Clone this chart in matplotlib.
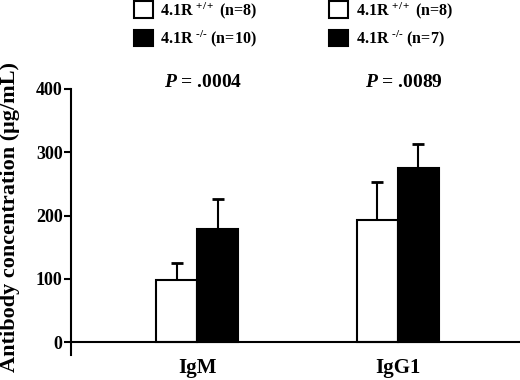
import matplotlib
matplotlib.use("Agg")
import matplotlib.pyplot as plt
from matplotlib.patches import Patch

plt.rcParams['font.family'] = 'Liberation Serif'
plt.rcParams['font.weight'] = 'bold'
plt.rcParams['mathtext.fontset'] = 'custom'
plt.rcParams['mathtext.rm'] = 'Liberation Serif:bold'
plt.rcParams['mathtext.it'] = 'Liberation Serif:italic:bold'
plt.rcParams['mathtext.bf'] = 'Liberation Serif:bold'

# data
groups = ['IgM', 'IgG1']
wt_mean = [98, 193]
wt_err = [28, 60]
ko_mean = [179, 275]
ko_err = [47, 38]
p_values = ['.0004', '.0089']
wt_n = [8, 8]
ko_n = [10, 7]

fig = plt.figure(figsize=(5.2, 3.8), dpi=100)
ax = fig.add_axes([0.1365, 0.0658, 0.8635, 0.7])

x = list(range(len(groups)))
w = 0.204
xw = [i - w / 2 for i in x]
xk = [i + w / 2 for i in x]

ax.bar(xw, wt_mean, w, color='white', edgecolor='black', linewidth=1.5, zorder=2)
ax.bar(xk, ko_mean, w, color='black', edgecolor='black', linewidth=1.5, zorder=2)
ax.errorbar(xw, wt_mean, yerr=[[0] * len(x), wt_err], fmt='none', ecolor='black',
            elinewidth=1.5, capsize=4.3, capthick=2, zorder=1)
ax.errorbar(xk, ko_mean, yerr=[[0] * len(x), ko_err], fmt='none', ecolor='black',
            elinewidth=1.5, capsize=4.3, capthick=2, zorder=1)

ax.set_xlim(-0.627, 1.607)
ax.set_ylim(-20, 400)
ax.set_yticks([0, 100, 200, 300, 400])
ax.tick_params(axis='y', labelsize=13, width=1.5, length=5, pad=1)
ax.set_xticks([])
for s in ['top', 'right']:
    ax.spines[s].set_visible(False)
ax.spines['bottom'].set_position(('data', 0))
ax.spines['bottom'].set_linewidth(1.5)
ax.spines['left'].set_linewidth(1.5)
ax.set_ylabel('Antibody concentration (μg/mL)', fontsize=16, fontweight='bold', va='center')
ax.yaxis.set_label_coords(-0.136, 0.519)

for i, g in enumerate(groups):
    ax.text(i, -41, g, ha='center', va='center', fontsize=15, fontweight='bold', clip_on=False)
    ax.text(i + 0.03, 411, '$P$ = ' + p_values[i], ha='center', va='center', fontsize=14,
            fontweight='bold', clip_on=False)

legend_x = [0.2577, 0.633]
for i in range(len(groups)):
    handles = [Patch(facecolor='white', edgecolor='black', linewidth=1.5),
               Patch(facecolor='black', edgecolor='black', linewidth=1.5)]
    labels = ['4.1R $^{+/+}$ (n=%d)' % wt_n[i], '4.1R $^{\u2010/\u2010}$ (n=%d)' % ko_n[i]]
    fig.legend(handles, labels, loc='upper left', bbox_to_anchor=(legend_x[i], 1.0),
               frameon=False, fontsize=11.5, handlelength=1.2, handleheight=1.2,
               handletextpad=0.45, labelspacing=0.5, borderpad=0, borderaxespad=0)

fig.savefig('out.png', dpi=100)
